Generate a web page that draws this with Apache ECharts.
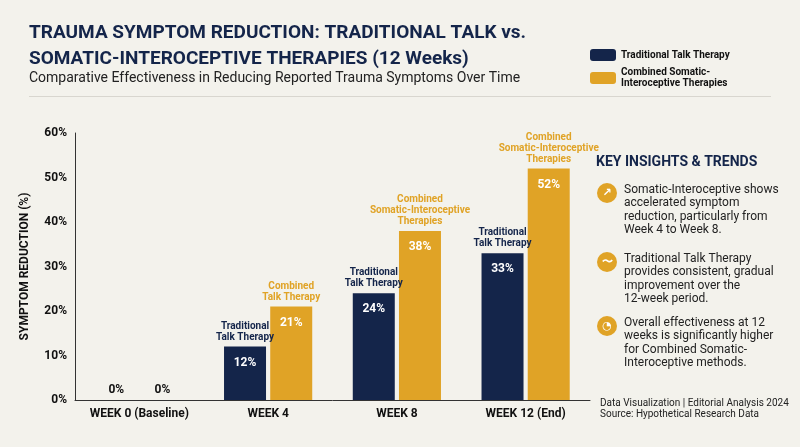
<!DOCTYPE html><html><head><meta charset="utf-8"><script src="https://cdn.jsdelivr.net/npm/echarts@6/dist/echarts.min.js"></script>
<style>html,body{margin:0;background:#f3f2ec}#c{width:800px;height:447px}</style></head><body><div id="c"></div><script>
const categories=['WEEK 0 (Baseline)','WEEK 4','WEEK 8','WEEK 12 (End)'];
const talk=[0,12,24,33];
const somatic=[0,21,38,52];
const talkNotes=['','Traditional\nTalk Therapy','Traditional\nTalk Therapy','Traditional\nTalk Therapy'];
const somaticNotes=['','Combined\nTalk Therapy','Combined\nSomatic-Interoceptive\nTherapies','Combined\nSomatic-Interoceptive\nTherapies'];
const yTicks=[0,10,20,30,40,50,60];
const NAVY='#14254a',GOLD='#e0a326',F='Roboto';
const c=echarts.init(document.getElementById('c'));
function valLabel(v){return {show:true,position:v===0?'top':'insideTop',distance:v===0?4:10,color:v===0?'#111':'#fff',fontFamily:F,fontWeight:'bold',fontSize:12,formatter:'{c}%'};}
function noteSeries(vals,notes,col){return {type:'bar',xAxisIndex:1,barWidth:42,barGap:'10%',itemStyle:{color:'transparent'},silent:true,
 data:vals.map((v,i)=>({value:v,label:{show:!!notes[i],position:'top',distance:4,formatter:notes[i]||' ',color:col,fontFamily:F,fontWeight:'bold',fontSize:10,lineHeight:11}}))};}
const insights=[['Somatic-Interoceptive shows','accelerated symptom','reduction, particularly from','Week 4 to Week 8.'],['Traditional Talk Therapy','provides consistent, gradual','improvement over the','12-week period.'],['Overall effectiveness at 12','weeks is significantly higher','for Combined Somatic-','Interoceptive methods.']];
const icons=['↗','〜','◔'];const iy=[183,252,316];
const g=[
 {type:'text',left:29,top:20,style:{text:'TRAUMA SYMPTOM REDUCTION: TRADITIONAL TALK vs.\nSOMATIC-INTEROCEPTIVE THERAPIES (12 Weeks)',fill:NAVY,font:'bold 19px Roboto',lineHeight:26}},
 {type:'text',left:29,top:71,style:{text:'Comparative Effectiveness in Reducing Reported Trauma Symptoms Over Time',fill:'#222',font:'14px Roboto'}},
 {type:'rect',shape:{x:29,y:96,width:742,height:1},style:{fill:'#d8d6cf'}},
 {type:'text',left:596,top:155,style:{text:'KEY INSIGHTS & TRENDS',fill:NAVY,font:'bold 14px Roboto'}},
 {type:'text',left:600,top:398,style:{text:'Data Visualization | Editorial Analysis 2024\nSource: Hypothetical Research Data',fill:'#222',font:'10px Roboto',lineHeight:11}}
];
insights.forEach((t,i)=>{g.push({type:'circle',shape:{cx:607,cy:iy[i]+10,r:10},style:{fill:GOLD}});
 g.push({type:'text',x:607,y:iy[i]+10,style:{text:icons[i],fill:'#fff',font:'bold 11px DejaVu Sans',align:'center',verticalAlign:'middle'}});
 g.push({type:'text',left:624,top:iy[i],style:{text:t.join('\n'),fill:'#222',font:'12px Roboto',lineHeight:13.5}});});
c.setOption({backgroundColor:'#f3f2ec',animation:false,
 legend:{orient:'vertical',left:585,top:44,itemWidth:26,itemHeight:12,itemGap:6,data:['Traditional Talk Therapy','Combined Somatic-Interoceptive Therapies'],
  formatter:n=>n==='Combined Somatic-Interoceptive Therapies'?'Combined Somatic-\nInteroceptive Therapies':n,textStyle:{fontFamily:F,fontSize:10,fontWeight:'bold',color:'#111',lineHeight:11}},
 grid:{left:75,right:210,top:133,bottom:47},
 xAxis:[{type:'category',data:categories,axisLine:{lineStyle:{color:'#333'}},axisTick:{show:false},axisLabel:{interval:0,color:'#111',fontFamily:F,fontWeight:'bold',fontSize:12,margin:8}},
  {type:'category',data:categories,show:false}],
 yAxis:{type:'value',min:0,max:60,interval:10,name:'SYMPTOM REDUCTION (%)',nameLocation:'middle',nameGap:44,nameTextStyle:{color:'#111',fontFamily:F,fontWeight:'bold',fontSize:12},
  axisLine:{show:true,lineStyle:{color:'#333'}},splitLine:{show:false},axisLabel:{color:'#111',fontFamily:F,fontWeight:'bold',fontSize:12,formatter:v=>yTicks.includes(v)?v+'%':''}},
 series:[{name:'Traditional Talk Therapy',type:'bar',barWidth:42,barGap:'10%',itemStyle:{color:NAVY},data:talk.map(v=>({value:v,label:valLabel(v)}))},
  {name:'Combined Somatic-Interoceptive Therapies',type:'bar',barWidth:42,itemStyle:{color:GOLD},data:somatic.map(v=>({value:v,label:valLabel(v)}))},
  noteSeries(talk,talkNotes,NAVY),noteSeries(somatic,somaticNotes,GOLD)],
 graphic:g});
</script></body></html>
